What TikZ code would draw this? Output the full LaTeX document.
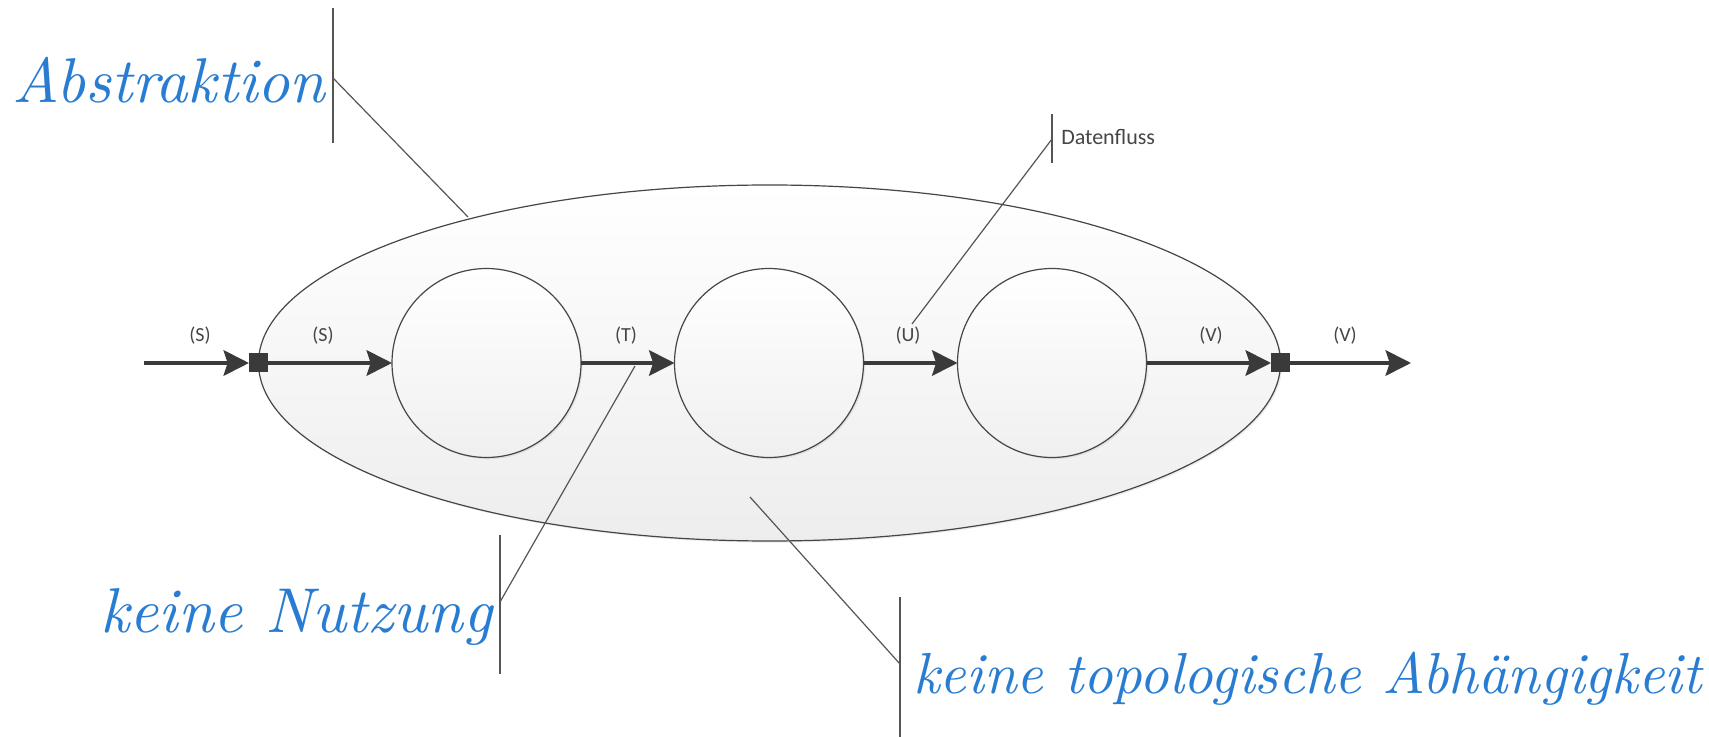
\documentclass[tikz,border=0pt]{standalone}
\usepackage{fontspec}
\usepackage{graphicx}
\newfontfamily\labelfont{Carlito}
\usetikzlibrary{shapes.geometric,arrows.meta,shadows}
\definecolor{scriptblue}{RGB}{40,125,210}
\definecolor{linegray}{RGB}{70,70,70}
\definecolor{flowgray}{RGB}{58,58,58}
\definecolor{leadgray}{RGB}{85,85,85}
\begin{document}
\begin{tikzpicture}[x=0.75pt,y=-0.75pt,
  flow/.style={line width=3pt, draw=flowgray, -{Stealth[length=19pt,width=19pt,inset=3pt]}},
  proc/.style={circle, draw=linegray, line width=0.9pt, minimum size=141.75pt, inner sep=0pt, outer sep=0pt,
    top color=white, bottom color=gray!12, drop shadow={shadow xshift=1.2pt, shadow yshift=-1.2pt, opacity=0.15}},
  bigell/.style={ellipse, draw=linegray, line width=0.9pt, minimum width=766.5pt, minimum height=267pt, inner sep=0pt, outer sep=0pt,
    top color=white, bottom color=gray!14, drop shadow={shadow xshift=1.2pt, shadow yshift=-1.2pt, opacity=0.15}},
  port/.style={rectangle, fill=flowgray, minimum size=14.25pt, inner sep=0pt, outer sep=0pt},
  lbl/.style={font=\labelfont\fontsize{15pt}{18pt}\selectfont, text=linegray, inner sep=0pt},
  anno/.style={draw=leadgray, line width=0.9pt},
  script/.style={text=scriptblue, inner sep=0pt, anchor=base west}]
\useasboundingbox (0,0) rectangle (1709,737);
\fill[white] (0,0) rectangle (1709,737);

% main shapes
\node[bigell] (E) at (769.5,363) {};
\node[proc] (c1) at (486.5,363) {};
\node[proc] (c2) at (769,363) {};
\node[proc] (c3) at (1052,363) {};

% data flow
\coordinate (in) at (144,363);
\coordinate (out) at (1411,363);
\node[port] (p1) at (E.west) {};
\node[port] (p2) at (E.east) {};
\draw[flow] (in) -- (p1.west);
\draw[flow] (p1.east) -- (c1.west);
\draw[flow] (c1.east) -- (c2.west);
\draw[flow] (c2.east) -- (c3.west);
\draw[flow] (c3.east) -- (p2.west);
\draw[flow] (p2.east) -- (out);
\node[port] at (E.west) {};
\node[port] at (E.east) {};

% flow labels
\node[lbl] (ls1) at (200,336) {(S)};
\node[lbl] (ls2) at (323,336) {(S)};
\node[lbl] (lt) at (626,336) {(T)};
\node[lbl] (lu) at (908,336) {(U)};
\node[lbl] (lv1) at (1211,336) {(V)};
\node[lbl] (lv2) at (1345,336) {(V)};

% annotation: Abstraktion
\coordinate (a1t) at (333,8);
\coordinate (a1b) at (333,143);
\coordinate (a1m) at (333,78);
\coordinate (a1e) at (468,217);
\draw[anno] (a1t) -- (a1b);
\draw[anno] (a1m) -- (a1e);
\node[script] (tabs) at (12,103) {\resizebox{234.75pt}{!}{\itshape Abstraktion}};

% annotation: Datenfluss
\coordinate (a2t) at (1052,114);
\coordinate (a2b) at (1052,163);
\coordinate (a2m) at (1052,139);
\coordinate (a2e) at (912,324);
\draw[anno] (a2t) -- (a2b);
\draw[anno] (a2m) -- (a2e);
\node[lbl, anchor=west, font=\labelfont\fontsize{16.5pt}{19pt}\selectfont] (tdf) at (1061,137) {Datenfluss};

% annotation: keine Nutzung
\coordinate (a3t) at (500,535);
\coordinate (a3b) at (500,674);
\coordinate (a3m) at (500,602);
\coordinate (a3e) at (635,366);
\draw[anno] (a3t) -- (a3b);
\draw[anno] (a3m) -- (a3e);
\node[script] (tnu) at (100,632) {\resizebox{294pt}{!}{\itshape keine Nutzung}};

% annotation: keine topologische Abhaengigkeit
\coordinate (a4t) at (900,597);
\coordinate (a4b) at (900,737);
\coordinate (a4m) at (900,664);
\coordinate (a4e) at (750,497);
\draw[anno] (a4t) -- (a4b);
\draw[anno] (a4m) -- (a4e);
\node[script] (ttop) at (913,693) {\resizebox{591pt}{!}{\itshape keine topologische Abhängigkeit}};
\end{tikzpicture}
\end{document}
